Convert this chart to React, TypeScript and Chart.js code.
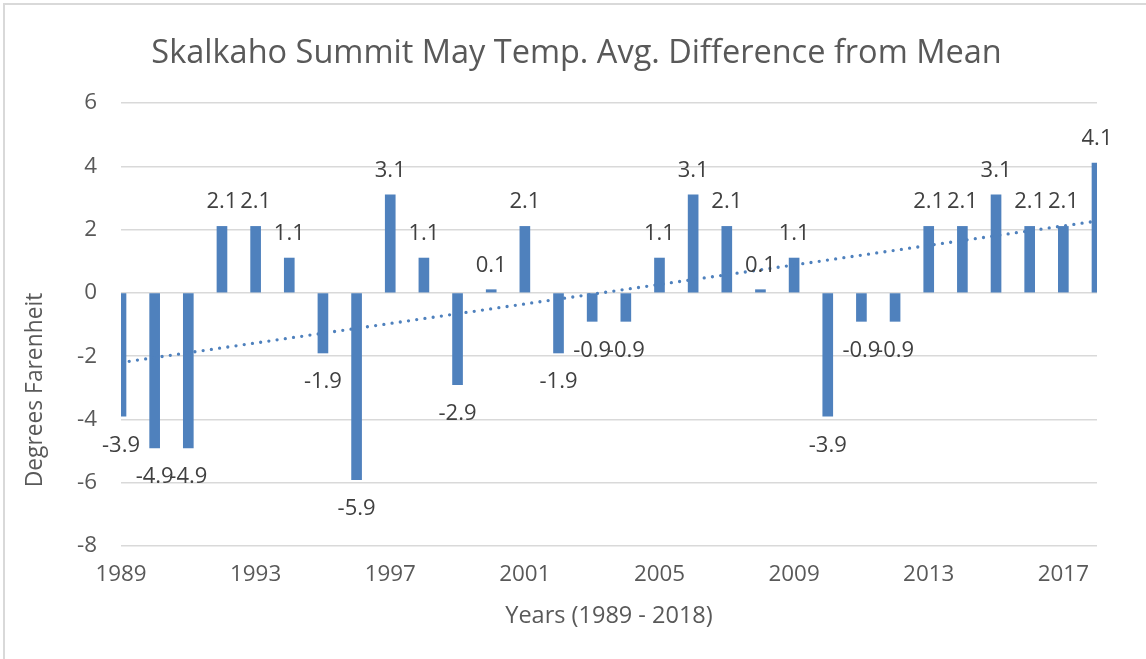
import React, { useEffect, useRef } from "react";
import { Chart, registerables } from "chart.js";

Chart.register(...registerables);

const years = [
  1989, 1990, 1991, 1992, 1993, 1994, 1995, 1996, 1997, 1998,
  1999, 2000, 2001, 2002, 2003, 2004, 2005, 2006, 2007, 2008,
  2009, 2010, 2011, 2012, 2013, 2014, 2015, 2016, 2017, 2018,
];
const tempDiff = [
  -3.9, -4.9, -4.9, 2.1, 2.1, 1.1, -1.9, -5.9, 3.1, 1.1,
  -2.9, 0.1, 2.1, -1.9, -0.9, -0.9, 1.1, 3.1, 2.1, 0.1,
  1.1, -3.9, -0.9, -0.9, 2.1, 2.1, 3.1, 2.1, 2.1, 4.1,
];
const trendYears = [1989, 2018];
const trendValues = [-2.2, 2.27];
const xTickLabels = [1989, 1993, 1997, 2001, 2005, 2009, 2013, 2017];
const yTickValues = [-8, -6, -4, -2, 0, 2, 4, 6];

const TITLE = "Skalkaho Summit May Temp. Avg. Difference from Mean";
const X_TITLE = "Years (1989 - 2018)";
const Y_TITLE = "Degrees Farenheit";
const FONT = "'Open Sans'";
const BLUE = "#4f81bd";

const overlayPlugin = {
  id: "overlay",
  afterDatasetsDraw(chart: any) {
    const ctx = chart.ctx;
    const meta = chart.getDatasetMeta(1);
    ctx.save();
    ctx.fillStyle = "#404040";
    ctx.font = `22px ${FONT}`;
    ctx.textAlign = "center";
    ctx.textBaseline = "alphabetic";
    meta.data.forEach((el: any, i: number) => {
      const v = tempDiff[i];
      const label = v.toFixed(1);
      if (v >= 0) {
        ctx.fillText(label, el.x, el.y - 18);
      } else {
        ctx.fillText(label, el.x, el.y + 35.5);
      }
    });
    ctx.restore();
  },
  afterDraw(chart: any) {
    const ctx = chart.ctx;
    const area = chart.chartArea;
    ctx.save();
    ctx.fillStyle = "#595959";
    ctx.textAlign = "center";
    ctx.textBaseline = "alphabetic";
    ctx.font = `32.5px ${FONT}`;
    ctx.fillText(TITLE, 576.5, 62.5);
    ctx.font = `23.5px ${FONT}`;
    ctx.fillText(X_TITLE, (area.left + area.right) / 2, 623);
    ctx.font = `22.8px ${FONT}`;
    ctx.translate(42, 390);
    ctx.rotate(-Math.PI / 2);
    ctx.fillText(Y_TITLE, 0, 0);
    ctx.restore();
  },
};

export default function App() {
  const ref = useRef<HTMLCanvasElement>(null);
  useEffect(() => {
    const chart = new Chart(ref.current!, {
      type: "bar",
      data: {
        datasets: [
          {
            type: "line",
            data: trendYears.map((x, i) => ({ x, y: trendValues[i] })),
            borderColor: BLUE,
            borderWidth: 3.3,
            borderDash: [0, 8.3],
            borderCapStyle: "round",
            pointRadius: 0,
            fill: false,
            order: 0,
          } as any,
          {
            type: "bar",
            data: years.map((x, i) => ({ x, y: tempDiff[i] })),
            backgroundColor: BLUE,
            barThickness: 10,
            order: 1,
          } as any,
        ],
      },
      plugins: [overlayPlugin],
      options: {
        responsive: false,
        animation: false,
        layout: { padding: { top: 103, right: 49, left: 0, bottom: 0 } },
        plugins: { legend: { display: false }, tooltip: { enabled: false }, title: { display: false } },
        scales: {
          x: {
            type: "linear",
            min: 1989,
            max: 2018,
            offset: false,
            grid: { display: false, drawTicks: false },
            border: { display: false },
            afterBuildTicks: (s: any) => {
              s.ticks = xTickLabels.map((v) => ({ value: v }));
            },
            afterFit: (s: any) => {
              s.height = 113;
            },
            ticks: {
              autoSkip: false,
              maxRotation: 0,
              padding: 15,
              color: "#595959",
              font: { family: FONT, size: 22.4 },
              callback: (v: any) => String(v),
            },
          },
          y: {
            min: -8,
            max: 6,
            afterBuildTicks: (s: any) => {
              s.ticks = yTickValues.map((v) => ({ value: v }));
            },
            afterFit: (s: any) => {
              s.width = 121;
            },
            grid: { color: "#d9d9d9", lineWidth: 1.5, drawTicks: false },
            border: { display: false },
            ticks: {
              padding: 24,
              color: "#595959",
              font: { family: FONT, size: 22.4 },
              callback: (v: any) => String(v),
            },
          },
        },
      },
    });
    return () => chart.destroy();
  }, []);
  return (
    <div style={{ position: "fixed", left: 0, top: 0, width: 1146, height: 659, background: "#fff", overflow: "hidden" }}>
      <div style={{ position: "absolute", left: 3, top: 3, width: 1200, height: 800, border: "2px solid #d9d9d9" }} />
      <canvas ref={ref} width={1146} height={659} style={{ position: "absolute", left: 0, top: 0 }} />
    </div>
  );
}
